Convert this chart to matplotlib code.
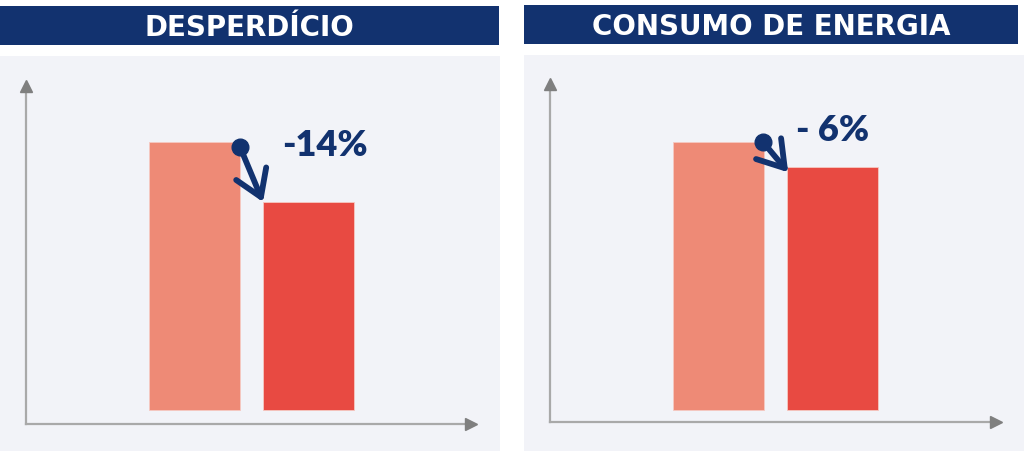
import matplotlib
matplotlib.use("Agg")
import matplotlib.pyplot as plt

# bar heights (first bar = 100)
desperdicio = [100, 77.6]
energia = [100, 90.7]
series = [desperdicio, energia]
titles = ["DESPERDÍCIO", "CONSUMO DE ENERGIA"]
labels = ["-14%", "- 6%"]
positions = [0, 1]

NAVY = "#12326f"
BG = "#f2f3f8"
LIGHT_RED = "#ee8a76"
RED = "#e84a42"
AXIS = "#a9a9a9"
HEAD = "#7f7f7f"

W, H = 1024, 452
fig = plt.figure(figsize=(W / 100, H / 100), dpi=100)
fig.patch.set_facecolor("white")


def px_box(x0, y0, x1, y1):
    # pixel box (top-left origin) -> figure fraction [left, bottom, width, height]
    return [x0 / W, 1 - y1 / H, (x1 - x0) / W, (y1 - y0) / H]


def blank(ax, color):
    ax.set_facecolor(color)
    ax.set_xticks([])
    ax.set_yticks([])
    for s in ax.spines.values():
        s.set_visible(False)


# panel geometry in pixels
panels = [
    dict(header=(0, 7, 499, 46), bg=(0, 57, 500, 452), axes=(26, 82, 478, 425), base=14,
         text_xy=(1.14, 99), dot=(0.40, -2), tip=(0.60, 0)),
    dict(header=(524, 6, 1018, 45), bg=(524, 56, 1024, 452), axes=(550, 80, 1003, 423), base=12,
         text_xy=(1.0, 104.5), dot=(0.39, 0), tip=(0.61, -2)),
]

px_per_unit = 268 / 100  # 100 -> 268 px tall bar
bar_step = 114.2  # px between bar centres
bar_width = 0.8

for i, p in enumerate(panels):
    vals = series[i]

    # background + header
    bg = fig.add_axes(px_box(*p["bg"]))
    blank(bg, BG)

    hd = fig.add_axes(px_box(*p["header"]))
    blank(hd, NAVY)
    hd.text(0.5, 0.47, titles[i], color="white", fontsize=20, fontweight="bold",
            family="DejaVu Sans", ha="center", va="center", transform=hd.transAxes)

    # plotting axes
    x0, y0, x1, y1 = p["axes"]
    ax = fig.add_axes(px_box(x0, y0, x1, y1))
    ax.patch.set_alpha(0)
    ax.axis("off")
    lo = -p["base"] / px_per_unit
    ax.set_ylim(lo, lo + (y1 - y0) / px_per_unit)
    left = -168.5 / bar_step
    ax.set_xlim(left, left + (x1 - x0) / bar_step)

    ax.bar(positions, vals, width=bar_width, color=[LIGHT_RED, RED],
           edgecolor="#f6c9c2", linewidth=0.6)

    # axis lines with arrow heads
    ax.plot([0, 0], [0, 0.975], color=AXIS, lw=1.6, transform=ax.transAxes, clip_on=False)
    ax.plot([0, 0.975], [0, 0], color=AXIS, lw=1.6, transform=ax.transAxes, clip_on=False)
    ax.plot(0, 0.985, marker="^", ms=9, color=HEAD, transform=ax.transAxes, clip_on=False)
    ax.plot(0.985, 0, marker=">", ms=9, color=HEAD, transform=ax.transAxes, clip_on=False)

    # change marker: dot on first bar, arrow down to the second
    dx, dy = p["dot"]
    tx, ty = p["tip"]
    ax.annotate("", xy=(tx, vals[1] + ty), xytext=(dx, vals[0] + dy),
                arrowprops=dict(arrowstyle="->,head_length=0.7,head_width=0.45",
                                lw=4.2, color=NAVY, shrinkA=0, shrinkB=0,
                                mutation_scale=26))
    ax.plot(dx, vals[0] + dy, marker="o", ms=12, color=NAVY, clip_on=False)

    ax.text(p["text_xy"][0], p["text_xy"][1], labels[i], color=NAVY, fontsize=26,
            fontweight="heavy", family="Lato", ha="center", va="center")

fig.savefig("out.png", dpi=100, facecolor="white")
